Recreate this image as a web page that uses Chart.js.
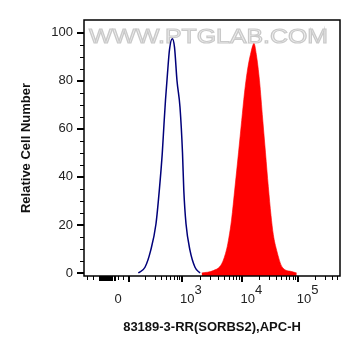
<!DOCTYPE html>
<html>
<head>
<meta charset="utf-8">
<script src="https://cdn.jsdelivr.net/npm/chart.js@4.4.1/dist/chart.umd.min.js"></script>
<style>
  html, body { margin: 0; padding: 0; background: #fff; }
  #wrap { width: 361px; height: 356px; position: relative; }
</style>
</head>
<body>
<div id="wrap"><canvas id="chart"></canvas></div>
<script>
// x is the display channel of the biexponential axis (0..256)
const isotypeX = [54.3, 61, 66.7, 72, 75.3, 78.3, 80, 81.5, 83.3, 85.5, 88.3, 90.5, 93, 96, 98.5, 99.8, 102, 106, 111, 116];
const isotypeY = [0, 2.4, 9.4, 20.5, 34.4, 50, 62, 72, 82, 93, 97.5, 94, 80, 69, 50, 34.4, 20.5, 9.4, 2.4, 0];
const antibodyX = [117.7, 129.3, 137.7, 142.7, 145, 147.5, 151, 154.5, 157.7, 160.5, 163.3, 166.5, 170, 172.3, 175.5, 178.7, 181.5, 184.3, 187, 189.3, 192.7, 198.3, 207.7, 212.7];
const antibodyY = [0, 1, 3.8, 10, 15, 22, 35.8, 50, 63.5, 75, 84, 91, 95.5, 91, 80, 64, 50, 36, 24, 16, 9.4, 2.4, 0.6, 0];

const xLabelTicks = [
  { ch: 34, base: '0', exp: '' },
  { ch: 97.5, base: '10', exp: '3' },
  { ch: 158, base: '10', exp: '4' },
  { ch: 214.3, base: '10', exp: '5' },
];
const xMajorTicks = [45, 97.5, 158, 214.3];
const xMidTicks = [16, 18, 20, 22, 24, 26, 28, 31];
const xMinorTicks = [2.7, 9.3, 34.3, 39.3,
  61.4, 70.5, 77, 82, 86.2, 89.7, 92.6, 95.3,
  115.7, 126.4, 133.9, 139.8, 144.6, 148.6, 152.1, 155.2,
  174.9, 184.7, 191.7, 197.1, 201.6, 205.3, 208.6, 211.4,
  231.2, 241, 248, 253.4];
const yTicks = [0, 20, 40, 60, 80, 100];
const yMinorTicks = [5, 10, 15, 25, 30, 35, 45, 50, 55, 65, 70, 75, 85, 90, 95];

const toPoints = (xs, ys) => xs.map((x, i) => ({ x: x, y: ys[i] }));

const frame = {
  id: 'frame',
  beforeDatasetsDraw(chart) {
    const ctx = chart.ctx;
    ctx.save();
    ctx.font = '21px "Liberation Sans", Arial, sans-serif';
    const text = 'WWW.PTGLAB.COM';
    const w = ctx.measureText(text).width;
    ctx.translate(89, 42.5);
    ctx.scale(239 / w, 1);
    ctx.fillStyle = '#efefef';
    ctx.fillText(text, 0, 0);
    ctx.strokeStyle = '#c9c9c9';
    ctx.lineWidth = 1.1;
    ctx.strokeText(text, 0, 0);
    ctx.restore();
  },
  afterDraw(chart) {
    const ctx = chart.ctx;
    const a = chart.chartArea;
    const xs = chart.scales.x;
    const ys = chart.scales.y;
    ctx.save();
    ctx.strokeStyle = '#000';
    ctx.lineWidth = 1.5;
    ctx.strokeRect(a.left, a.top, a.right - a.left, a.bottom - a.top);

    const tick = (x1, y1, x2, y2, w) => {
      ctx.lineWidth = w;
      ctx.beginPath();
      ctx.moveTo(x1, y1);
      ctx.lineTo(x2, y2);
      ctx.stroke();
    };
    yTicks.forEach(v => {
      const y = Math.round(ys.getPixelForValue(v));
      tick(a.left - 7, y, a.left, y, 2);
    });
    yMinorTicks.forEach(v => {
      const y = Math.round(ys.getPixelForValue(v)) + 0.5;
      tick(a.left - 4, y, a.left, y, 1);
    });
    xMajorTicks.forEach(v => {
      const x = Math.round(xs.getPixelForValue(v));
      tick(x, a.bottom, x, a.bottom + 6, 2);
    });
    xMidTicks.forEach(v => {
      const x = Math.round(xs.getPixelForValue(v));
      tick(x, a.bottom, x, a.bottom + 5, 2);
    });
    xMinorTicks.forEach(v => {
      const x = Math.round(xs.getPixelForValue(v)) + 0.5;
      tick(x, a.bottom, x, a.bottom + 4, 1);
    });

    ctx.fillStyle = '#222';
    ctx.font = '13px "Liberation Sans", Arial, sans-serif';
    ctx.textBaseline = 'alphabetic';
    xLabelTicks.forEach(t => {
      const x = xs.getPixelForValue(t.ch);
      if (!t.exp) {
        ctx.textAlign = 'center';
        ctx.fillText(t.base, x, 302.5);
      } else {
        ctx.textAlign = 'left';
        const bx = x - 1.5;
        ctx.fillText(t.base, bx, 302.5);
        const bw = ctx.measureText(t.base).width;
        ctx.fillText(t.exp, bx + bw, 293.5);
      }
    });
    ctx.restore();
  }
};

new Chart(document.getElementById('chart'), {
  type: 'line',
  data: {
    datasets: [
      {
        label: 'Isotype',
        data: toPoints(isotypeX, isotypeY),
        borderColor: '#00007a',
        borderWidth: 1.5,
        pointRadius: 0,
        fill: false,
        cubicInterpolationMode: 'monotone',
        order: 1,
      },
      {
        label: '83189-3-RR',
        data: toPoints(antibodyX, antibodyY),
        borderColor: 'rgba(255,0,0,0.6)',
        borderWidth: 1,
        backgroundColor: '#ff0000',
        pointRadius: 0,
        fill: 'start',
        cubicInterpolationMode: 'monotone',
        order: 2,
      },
    ],
  },
  options: {
    responsive: true,
    maintainAspectRatio: false,
    animation: false,
    layout: { padding: { top: 20, right: 21, left: 0, bottom: 0 } },
    plugins: { legend: { display: false }, tooltip: { enabled: false } },
    scales: {
      x: {
        type: 'linear',
        min: 0,
        max: 256,
        grid: { display: false, drawTicks: false },
        border: { display: false },
        ticks: { display: false },
        afterFit: s => { s.height = 80; },
        title: {
          display: true,
          text: '83189-3-RR(SORBS2),APC-H',
          color: '#111',
          font: { family: '"Liberation Sans", Arial, sans-serif', size: 13, weight: 'bold' },
          padding: { top: 0, bottom: 21 },
        },
      },
      y: {
        min: -1.25,
        max: 105.3,
        grid: { display: false, drawTicks: false, tickLength: 0 },
        border: { display: false },
        afterBuildTicks: s => { s.ticks = yTicks.map(v => ({ value: v })); },
        afterFit: s => { s.width = 84; },
        ticks: {
          color: '#222',
          padding: 11,
          font: { family: '"Liberation Sans", Arial, sans-serif', size: 13 },
        },
        title: {
          display: true,
          text: 'Relative Cell Number',
          color: '#111',
          font: { family: '"Liberation Sans", Arial, sans-serif', size: 13, weight: 'bold' },
          padding: { top: 19, bottom: 0 },
        },
      },
    },
  },
  plugins: [frame],
});
</script>
</body>
</html>
